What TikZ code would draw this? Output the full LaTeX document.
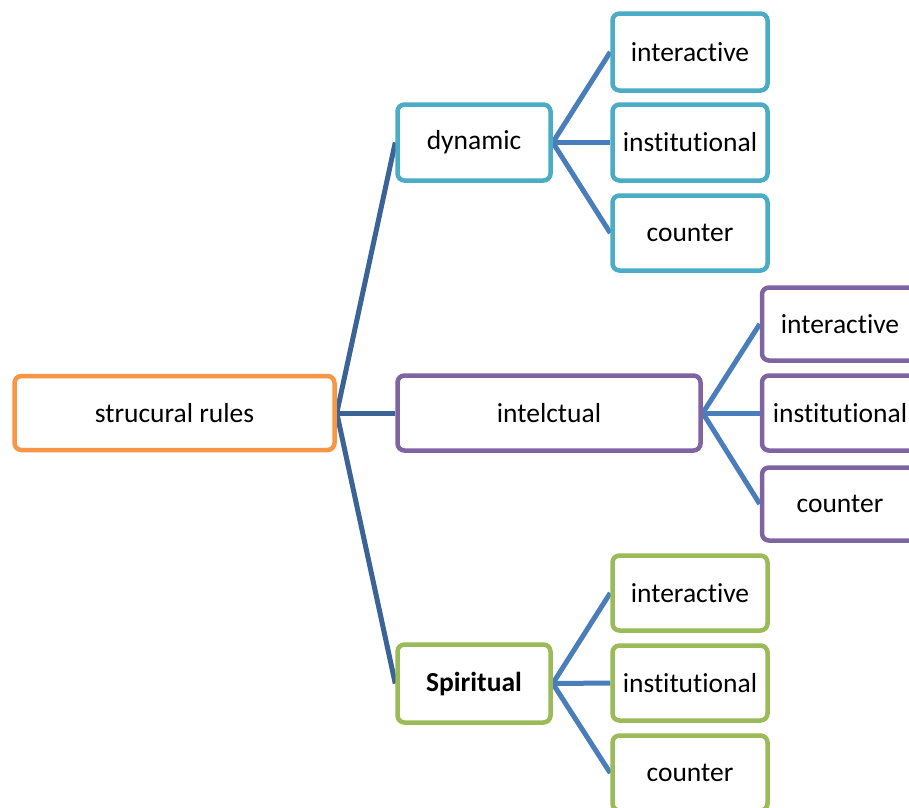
\documentclass[tikz,border=0pt]{standalone}
\usepackage{fontspec}
\setmainfont[RawFeature={-liga}]{Carlito}
\pgfdeclarelayer{bg}
\pgfdeclarelayer{lines}
\pgfsetlayers{bg,lines,main}
\definecolor{rootc}{HTML}{F79646}
\definecolor{dync}{HTML}{4BACC6}
\definecolor{intc}{HTML}{8064A2}
\definecolor{spic}{HTML}{9BBB59}
\definecolor{trunk}{HTML}{3B6395}
\definecolor{twig}{HTML}{4A7EBB}
\tikzset{
  box/.style={draw, line width=4.5pt, rounded corners=7pt, fill=white, inner sep=0pt,
    font=\fontsize{27.5}{32}\selectfont, text=black},
  trunkline/.style={draw=trunk, line width=5pt},
  twigline/.style={draw=twig, line width=5pt},
}
\begin{document}
\begin{tikzpicture}[x=1pt, y=-1pt]
\begin{pgfonlayer}{bg}
  \fill[white] (0,0) rectangle (909,807);
\end{pgfonlayer}
\useasboundingbox (0,0) rectangle (909,807);
\clip (0,0) rectangle (909,807);

% root
\node[box, draw=rootc, minimum width=320pt, minimum height=74pt] (root) at (174.5,413) {strucural rules};

% second level
\node[box, draw=dync, minimum width=153pt, minimum height=76pt] (dyn) at (474,142.5) {dynamic};
\node[box, draw=intc, minimum width=303pt, minimum height=75pt] (int) at (549,413) {intelctual};
\node[box, draw=spic, minimum width=153pt, minimum height=78pt] (spi) at (474,683.5) {\bfseries Spiritual};

% leaves of dynamic
\node[box, draw=dync, minimum width=155pt, minimum height=77pt] (d1) at (690,52) {interactive};
\node[box, draw=dync, minimum width=155pt, minimum height=76pt] (d2) at (690,142.5) {institutional};
\node[box, draw=dync, minimum width=155pt, minimum height=75pt] (d3) at (690,233) {counter};

% leaves of intelctual
\node[box, draw=intc, minimum width=156pt, minimum height=73pt] (i1) at (840,324) {interactive};
\node[box, draw=intc, minimum width=156pt, minimum height=75pt] (i2) at (840,413) {institutional};
\node[box, draw=intc, minimum width=156pt, minimum height=73pt] (i3) at (840,504) {counter};

% leaves of Spiritual
\node[box, draw=spic, minimum width=155pt, minimum height=75pt] (s1) at (690,593) {interactive};
\node[box, draw=spic, minimum width=155pt, minimum height=75pt] (s2) at (690,683) {institutional};
\node[box, draw=spic, minimum width=155pt, minimum height=75pt] (s3) at (690,773) {counter};

\begin{pgfonlayer}{lines}
  \draw[trunkline] (root.east) -- (dyn.west);
  \draw[trunkline] (root.east) -- (int.west);
  \draw[trunkline] (root.east) -- (spi.west);
  \foreach \p/\c in {dyn/d1, dyn/d2, dyn/d3, int/i1, int/i2, int/i3, spi/s1, spi/s2, spi/s3}
    \draw[twigline] (\p.east) -- (\c.west);
\end{pgfonlayer}
\end{tikzpicture}
\end{document}
